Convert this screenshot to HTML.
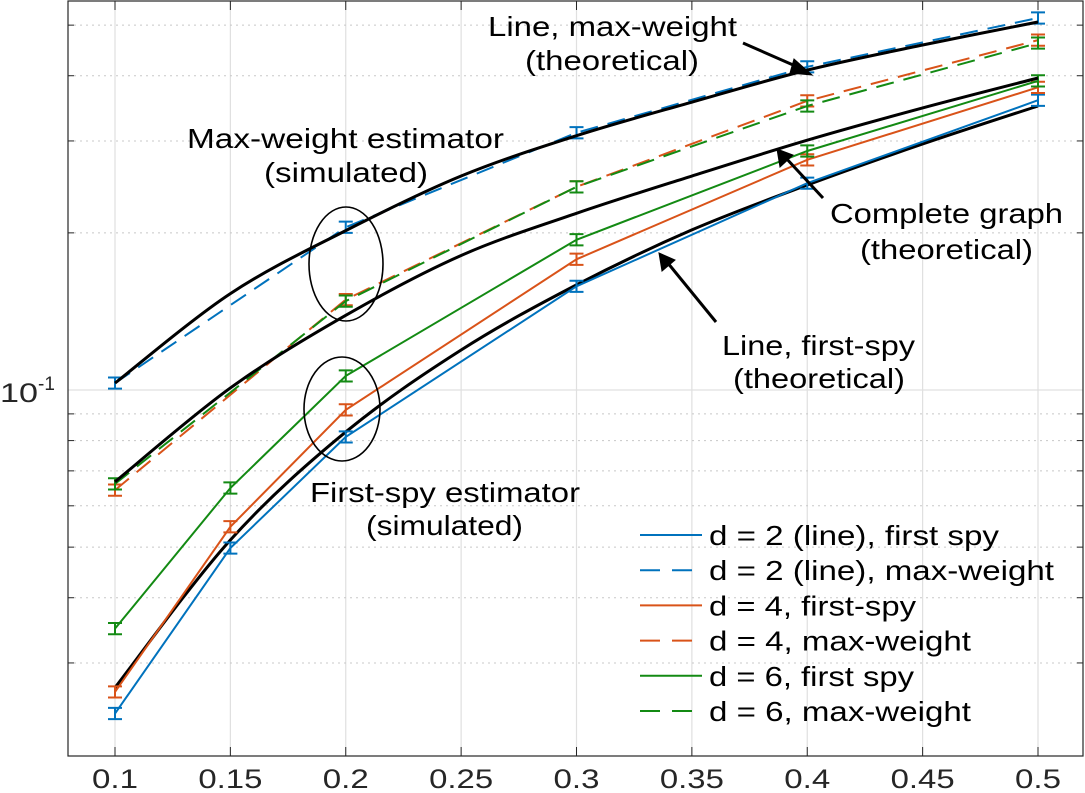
<!DOCTYPE html>
<html><head><meta charset="utf-8"><style>
html,body{margin:0;padding:0;background:#fff}
svg{display:block;font-family:"Liberation Sans",sans-serif}
</style></head><body>
<svg id="chart" width="1085" height="793" viewBox="0 0 1085 793" xmlns="http://www.w3.org/2000/svg">
<g id="grid"></g>
<g id="series"></g>
<g id="axes"></g>
<g id="annot" font-size="28" fill="#000">
  <text x="488" y="36" textLength="249" lengthAdjust="spacingAndGlyphs">Line, max-weight</text>
  <text x="525" y="70" textLength="174" lengthAdjust="spacingAndGlyphs">(theoretical)</text>
  <text x="187" y="148" textLength="317" lengthAdjust="spacingAndGlyphs">Max-weight estimator</text>
  <text x="264" y="182" textLength="164" lengthAdjust="spacingAndGlyphs">(simulated)</text>
  <text x="830" y="223" textLength="233" lengthAdjust="spacingAndGlyphs">Complete graph</text>
  <text x="860" y="259" textLength="173" lengthAdjust="spacingAndGlyphs">(theoretical)</text>
  <text x="722" y="355" textLength="193" lengthAdjust="spacingAndGlyphs">Line, first-spy</text>
  <text x="733" y="388" textLength="172" lengthAdjust="spacingAndGlyphs">(theoretical)</text>
  <text x="310" y="502" textLength="270" lengthAdjust="spacingAndGlyphs">First-spy estimator</text>
  <text x="366" y="535" textLength="157" lengthAdjust="spacingAndGlyphs">(simulated)</text>
  <ellipse cx="346" cy="264" rx="37" ry="57" fill="none" stroke="#000" stroke-width="1.6"/>
  <ellipse cx="342" cy="409" rx="38" ry="52" fill="none" stroke="#000" stroke-width="1.6"/>
  <g stroke="#000" stroke-width="3" fill="#000">
    <line x1="743" y1="43" x2="800" y2="68"/>
    <polygon points="812,75 794,59 790,73" stroke-width="1"/>
    <line x1="823" y1="198" x2="785" y2="157"/>
    <polygon points="777,149 780,167 793,155" stroke-width="1"/>
    <line x1="716" y1="322" x2="667" y2="262"/>
    <polygon points="659,253 662,271 675,260" stroke-width="1"/>
  </g>
</g>
<g id="legend" font-size="28" fill="#000"></g>
</svg>
<script>
const xCats = [0.1, 0.15, 0.2, 0.3, 0.4, 0.5];
const xDash = [0.1, 0.2, 0.3, 0.4, 0.5];
const xTheory = [0.1, 0.15, 0.2, 0.25, 0.3, 0.35, 0.4, 0.45, 0.5];
const xTicks = [0.1, 0.15, 0.2, 0.25, 0.3, 0.35, 0.4, 0.45, 0.5];
const xTickLabels = ["0.1","0.15","0.2","0.25","0.3","0.35","0.4","0.45","0.5"];
const yMinor = [0.03,0.04,0.05,0.06,0.07,0.08,0.09,0.2,0.3,0.4,0.5];
const d2First = [0.0240, 0.0498, 0.0813, 0.158, 0.249, 0.359];
const d2Max = [0.1031, 0.205, 0.311, 0.416, 0.516];
const d4First = [0.0264, 0.0547, 0.0916, 0.178, 0.276, 0.380];
const d4Max = [0.0643, 0.149, 0.245, 0.358, 0.468];
const d6First = [0.0349, 0.0649, 0.1064, 0.194, 0.287, 0.391];
const d6Max = [0.0661, 0.148, 0.245, 0.350, 0.462];
const thLineMax = [0.1031, 0.153, 0.202, 0.257, 0.307, 0.356, 0.410, 0.458, 0.507];
const thComplete = [0.0667, 0.1009, 0.139, 0.181, 0.218, 0.257, 0.301, 0.347, 0.396];
const thLineFirst = [0.0269, 0.0516, 0.0831, 0.1193, 0.159, 0.2026, 0.247, 0.296, 0.350];
const legendLabels = ["d = 2 (line), first spy","d = 2 (line), max-weight","d = 4, first-spy","d = 4, max-weight","d = 6, first spy","d = 6, max-weight"];

const NS="http://www.w3.org/2000/svg";
const L=68,R=1083,T=1,B=756;
function X(v){return 115+(v-0.1)*2307.5;}
function Y(v){return 390-(Math.log10(v)+1)*522;}
function mk(tag,attrs,parent){const e=document.createElementNS(NS,tag);for(const k in attrs)e.setAttribute(k,attrs[k]);parent.appendChild(e);return e;}
const grid=document.getElementById('grid'),axes=document.getElementById('axes'),ser=document.getElementById('series'),leg=document.getElementById('legend');

xTicks.forEach((t,i)=>{
  const g=mk('line',{x1:X(t),x2:X(t),y1:T,y2:B,stroke:'#e0e0e0','stroke-width':1.2},grid);
  
  
  const tk=mk('line',{x1:X(t),x2:X(t),y1:B,y2:B-9,stroke:'#262626','stroke-width':1},axes);
  
  
  const tk2=mk('line',{x1:X(t),x2:X(t),y1:T,y2:T+9,stroke:'#262626','stroke-width':1},axes);
  
  
  const w=xTickLabels[i].length===3?46:64;
  const tx=mk('text',{x:X(t)-w/2,y:788,'font-size':27,fill:'#262626',textLength:w,lengthAdjust:'spacingAndGlyphs'},axes);
  tx.textContent=xTickLabels[i];
  
  
});
yMinor.forEach(v=>{
  const g=mk('line',{x1:L,x2:R,y1:Y(v),y2:Y(v),stroke:'#c8c8c8','stroke-width':1,'stroke-dasharray':'2,4'},grid);
  
  
  [[L,L+6],[R,R-6]].forEach(p=>{
    const t=mk('line',{x1:p[0],x2:p[1],y1:Y(v),y2:Y(v),stroke:'#262626','stroke-width':1},axes);
    
    
  });
});
const yg=mk('line',{x1:L,x2:R,y1:Y(0.1),y2:Y(0.1),stroke:'#e0e0e0','stroke-width':1.2},grid);


const yl=mk('text',{x:0,y:Y(0.1)+12,'font-size':27,fill:'#262626'},axes);


yl.innerHTML='<tspan textLength="38" lengthAdjust="spacingAndGlyphs">10</tspan><tspan font-size="19" dy="-12">-1</tspan>';
const frame=mk('rect',{x:L,y:T,width:R-L,height:B-T,fill:'none',stroke:'#262626','stroke-width':1.2},axes);



function smooth(pts){let d='M'+pts[0][0]+','+pts[0][1];
  for(let i=0;i<pts.length-1;i++){const p0=pts[Math.max(i-1,0)],p1=pts[i],p2=pts[i+1],p3=pts[Math.min(i+2,pts.length-1)];
    d+=' C'+(p1[0]+(p2[0]-p0[0])/6)+','+(p1[1]+(p2[1]-p0[1])/6)+' '+(p2[0]-(p3[0]-p1[0])/6)+','+(p2[1]-(p3[1]-p1[1])/6)+' '+p2[0]+','+p2[1];}
  return d;}
function theory(vals,name){
  const p=mk('path',{d:smooth(xTheory.map((x,i)=>[X(x),Y(vals[i])])),fill:'none',stroke:'#000','stroke-width':3},ser);
  
  
}
function simSeries(xs,vals,color,dash,name){
  const p=mk('polyline',{points:xs.map((x,i)=>X(x)+','+Y(vals[i])).join(' '),fill:'none',stroke:color,'stroke-width':2},ser);
  if(dash)p.setAttribute('stroke-dasharray','18,10');
  
  
  xs.forEach((x,i)=>{
    const cx=X(x),y1=Y(vals[i]*1.025),y2=Y(vals[i]/1.025);
    const e=mk('path',{d:`M${cx-7},${y1}H${cx+7}M${cx},${y1}V${y2}M${cx-7},${y2}H${cx+7}`,stroke:color,'stroke-width':2,fill:'none'},ser);
    
    
  });
}
const C2='#0072bd',C4='#d95319',C6='#138a13';
theory(thLineFirst,'theory-line-first-spy');
simSeries(xCats,d2First,C2,false,'d2-first-spy');
simSeries(xDash,d2Max,C2,true,'d2-max-weight');
simSeries(xCats,d4First,C4,false,'d4-first-spy');
simSeries(xDash,d4Max,C4,true,'d4-max-weight');
simSeries(xCats,d6First,C6,false,'d6-first-spy');
simSeries(xDash,d6Max,C6,true,'d6-max-weight');
theory(thLineMax,'theory-line-max-weight');
theory(thComplete,'theory-complete-graph');

const legColors=[C2,C2,C4,C4,C6,C6];
const legWidths=[290,345,207,262,205,262];
legendLabels.forEach((lab,i)=>{
  const y=535+i*35.2;
  const ln=mk('line',{x1:640,x2:702,y1:y,y2:y,stroke:legColors[i],'stroke-width':2},leg);
  if(i%2)ln.setAttribute('stroke-dasharray','20,12');
  
  
  const t=mk('text',{x:709,y:y+10,textLength:legWidths[i],lengthAdjust:'spacingAndGlyphs'},leg);
  t.textContent=lab;
  
  
});
</script>
</body></html>
